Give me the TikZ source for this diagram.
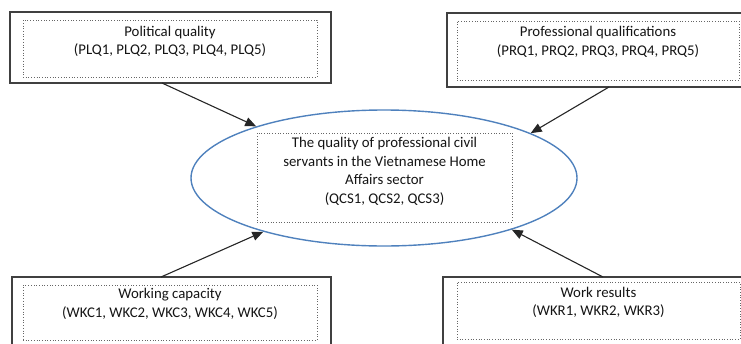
\documentclass[tikz,border=0pt]{standalone}
\usepackage{fontspec}
\setmainfont{Carlito}
\usetikzlibrary{shapes.geometric,arrows.meta}
\definecolor{ellblue}{HTML}{4F81BD}
\definecolor{boxline}{HTML}{404040}
\definecolor{txt}{HTML}{141414}
\tikzset{
  outerbox/.style={draw=boxline, line width=1.1pt, inner sep=0pt, fill=none},
  innerbox/.style={draw=gray!80!black, line width=0.7pt, dotted, inner sep=0pt},
  label text/.style={text=txt, align=center, inner sep=0pt, font=\fontsize{14.8pt}{18.5pt}\selectfont},
  arr/.style={draw=black!85, line width=1.1pt, -{Triangle[length=11pt,width=9pt]}},
}
\begin{document}
\begin{tikzpicture}[x=1pt,y=-1pt]
\useasboundingbox (0,0) rectangle (741,343);
\clip (0,0) rectangle (741,343);
% top-left
\node[outerbox, minimum width=321pt, minimum height=71pt] (plqo) at (170.5,47.5) {};
\node[innerbox, minimum width=294pt, minimum height=57pt] (plqi) at (170,48.5) {};
\node[label text] (plqt) at (170,41.5) {Political quality\\(PLQ1, PLQ2, PLQ3, PLQ4, PLQ5)};
% top-right
\node[outerbox, minimum width=300pt, minimum height=74pt] (prqo) at (597,50) {};
\node[innerbox, minimum width=282pt, minimum height=59pt] (prqi) at (598,50.5) {};
\node[label text] (prqt) at (598,42) {Professional qualifications\\(PRQ1, PRQ2, PRQ3, PRQ4, PRQ5)};
% bottom-left
\node[outerbox, minimum width=319pt, minimum height=73pt] (wkco) at (171.5,313.5) {};
\node[innerbox, minimum width=294pt, minimum height=55pt] (wkci) at (170,312.5) {};
\node[label text] (wkct) at (170,304) {Working capacity\\(WKC1, WKC2, WKC3, WKC4, WKC5)};
% bottom-right
\node[outerbox, minimum width=302pt, minimum height=73pt] (wkro) at (594,313.5) {};
\node[innerbox, minimum width=283pt, minimum height=57pt] (wkri) at (598.5,310.5) {};
\node[label text] (wkrt) at (598.5,302.5) {Work results\\(WKR1, WKR2, WKR3)};
% centre
\node[ellipse, draw=ellblue, line width=1.4pt, minimum width=386pt, minimum height=136pt, inner sep=0pt] (qcs) at (384,178) {};
\node[innerbox, minimum width=255pt, minimum height=89pt] (qcsi) at (384.5,177.5) {};
\node[label text] (qcst) at (384.5,171.5) {The quality of professional civil\\servants in the Vietnamese Home\\Affairs sector\\(QCS1, QCS2, QCS3)};
% arrows
\coordinate (s1) at (162,83);
\coordinate (s2) at (609,87);
\coordinate (s3) at (161,277);
\coordinate (s4) at (603,277);
\draw[arr] (s1) -- (qcs.158);
\draw[arr] (s2) -- (qcs.17);
\draw[arr] (s3) -- (qcs.204);
\draw[arr] (s4) -- (qcs.-22);
\end{tikzpicture}
\end{document}
